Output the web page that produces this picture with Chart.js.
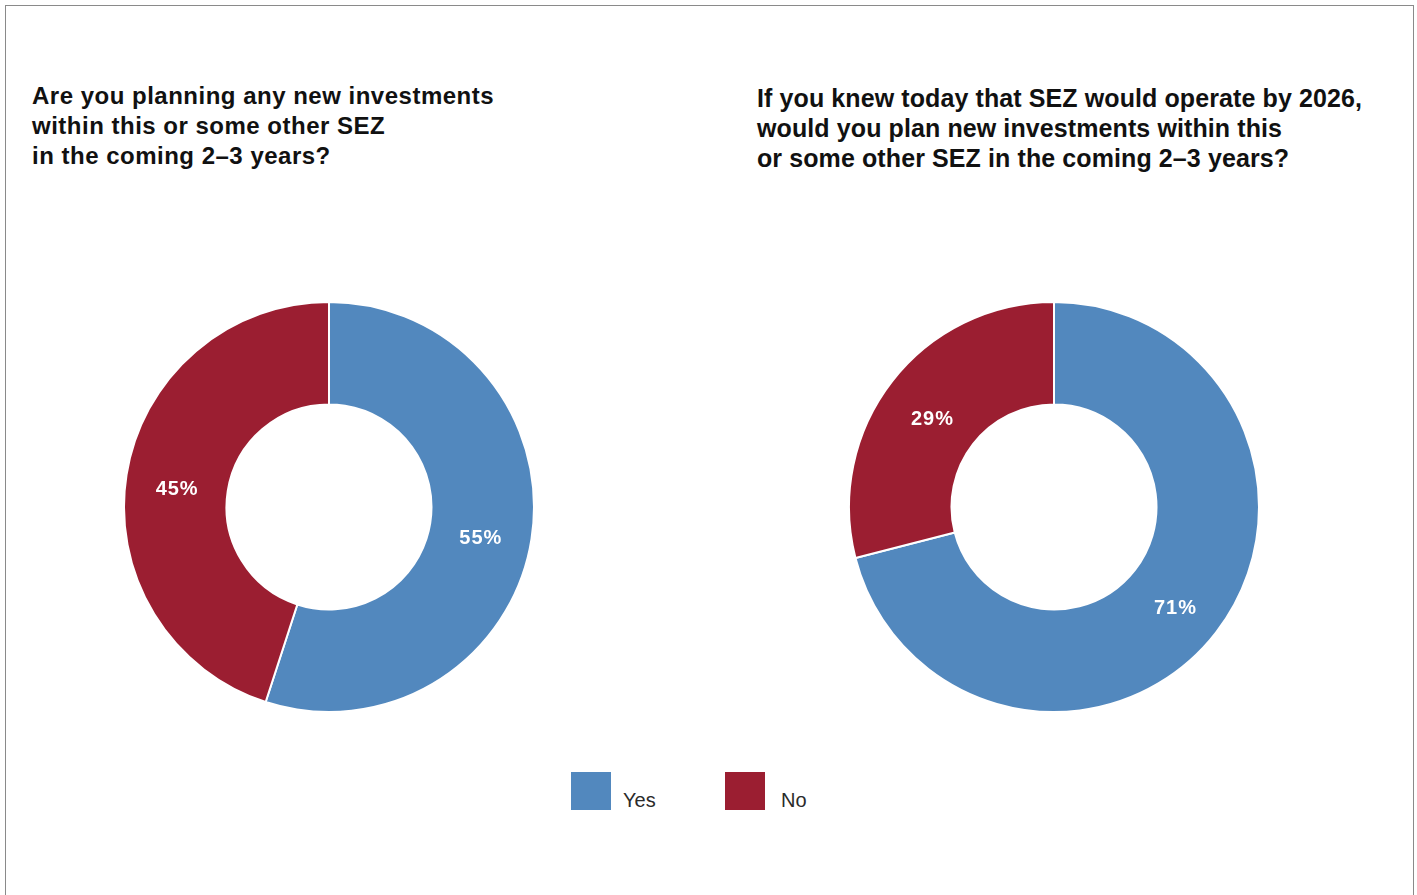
<!DOCTYPE html>
<html>
<head>
<meta charset="utf-8">
<script src="https://cdn.jsdelivr.net/npm/chart.js@4/dist/chart.umd.min.js"></script>
<style>
  body { margin: 0; background: #fff; font-family: "Liberation Sans", Arial, sans-serif; }
  .frame { position: absolute; left: 5px; top: 5px; width: 1407px; height: 900px;
           border: 1px solid #8a8a8a; border-bottom: none; }
  .title { position: absolute; font-weight: bold; color: #111; font-size: 24px; line-height: 30px;
           white-space: nowrap; }
  #t1 { left: 32px; top: 81px; letter-spacing: 0.5px; }
  #t2 { left: 757px; top: 83px; font-family: "Liberation Sans Narrow", "Liberation Sans", sans-serif;
        font-size: 25px; letter-spacing: 0.1px; }
  .box { position: absolute; width: 412px; height: 412px; }
  .legend { position: absolute; top: 772px; height: 38px; }
  .legend span.sw { position: absolute; left: 0; top: 0; width: 40px; height: 38px; }
  .legend span.lb { position: absolute; top: 17px; font-size: 20px; color: #2a2a2a; }
</style>
</head>
<body>
<div class="frame"></div>
<div class="title" id="t1"></div>
<div class="title" id="t2"></div>
<div class="box" style="left:123px; top:301px;"><canvas id="c1"></canvas></div>
<div class="box" style="left:848px; top:301px;"><canvas id="c2"></canvas></div>
<div id="legend"></div>
<script>
// survey answers
const answers = ['Yes', 'No'];
const planningNow = [55, 45];
const planningIf2026 = [71, 29];
const colors = ['#5288be', '#9b1e31'];

const titleLeft = ['Are you planning any new investments', 'within this or some other SEZ', 'in the coming 2\u20133 years?'];
const titleRight = ['If you knew today that SEZ would operate by 2026,', 'would you plan new investments within this', 'or some other SEZ in the coming 2\u20133 years?'];

document.getElementById('t1').innerHTML = titleLeft.join('<br>');
document.getElementById('t2').innerHTML = titleRight.join('<br>');

// legend
const legendPos = [571, 725];
const legendText = [623, 781];
const legendEl = document.getElementById('legend');
answers.forEach((a, i) => {
  const d = document.createElement('div');
  d.className = 'legend';
  d.style.left = legendPos[i] + 'px';
  d.innerHTML = `<span class="sw" style="background:${colors[i]}"></span>` +
    `<span class="lb" style="left:${legendText[i] - legendPos[i]}px">${a}</span>`;
  legendEl.appendChild(d);
});

// write the percentage in the middle of each slice
const sliceLabels = {
  id: 'sliceLabels',
  afterDatasetsDraw(chart) {
    const ctx = chart.ctx;
    const ds = chart.data.datasets[0];
    chart.getDatasetMeta(0).data.forEach((arc, i) => {
      const p = arc.tooltipPosition();
      ctx.save();
      ctx.fillStyle = '#fff';
      ctx.font = 'bold 20px "Liberation Sans", Arial, sans-serif';
      ctx.letterSpacing = '1px';
      ctx.textAlign = 'center';
      ctx.textBaseline = 'middle';
      ctx.fillText(ds.data[i] + '%', p.x, p.y + 7);
      ctx.restore();
    });
  }
};

function makeDoughnut(id, values) {
  return new Chart(document.getElementById(id), {
    type: 'doughnut',
    data: {
      labels: answers,
      datasets: [{
        data: values,
        backgroundColor: colors,
        borderColor: '#fff',
        borderWidth: 2
      }]
    },
    options: {
      responsive: true,
      maintainAspectRatio: false,
      animation: false,
      cutout: '50%',
      layout: { padding: 0 },
      plugins: { legend: { display: false }, tooltip: { enabled: false } }
    },
    plugins: [sliceLabels]
  });
}

makeDoughnut('c1', planningNow);
makeDoughnut('c2', planningIf2026);
</script>
</body>
</html>
